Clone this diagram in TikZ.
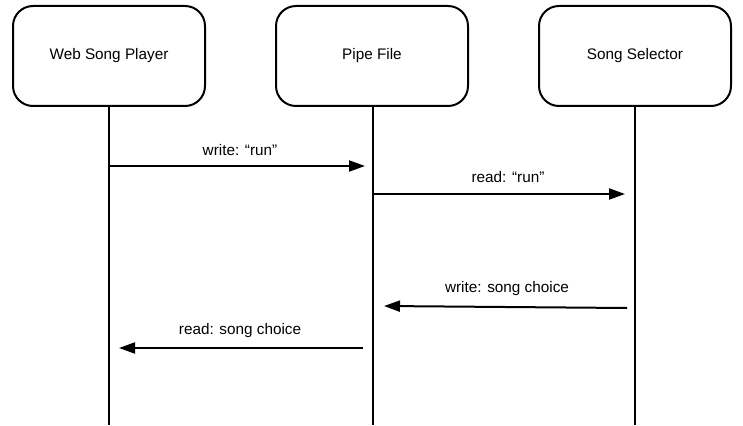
\documentclass[tikz,border=0pt]{standalone}
\usepackage{fontspec}
\setmainfont{Liberation Sans}
\usetikzlibrary{arrows.meta}
\begin{document}
\begin{tikzpicture}[x=1pt,y=-1pt,
  actor/.style={draw, line width=2pt, rounded corners=20pt, minimum width=192pt, minimum height=100pt, inner sep=0pt, font=\fontsize{15.3}{18}\selectfont},
  lifeline/.style={line width=1.4pt},
  msg/.style={line width=2pt, -{Triangle[length=16pt,width=11pt]}},
  lbl/.style={font=\fontsize{15.3}{18}\selectfont, inner sep=0pt}]
\useasboundingbox (0,0) rectangle (743,425);
\node[actor] (a) at (109,56) {Web Song Player};
\node[actor] (b) at (372,56) {Pipe File};
\node[actor] (c) at (635,56) {Song Selector};
\coordinate (ae) at (109,425);
\coordinate (be) at (373,425);
\coordinate (ce) at (635,425);
\draw[lifeline] (a.south) -- (ae);
\draw[lifeline] (b.south -| be) -- (be);
\draw[lifeline] (c.south) -- (ce);
% message endpoints
\coordinate (m1s) at (109,166); \coordinate (m1e) at (365,166);
\coordinate (m2s) at (374,194); \coordinate (m2e) at (625,194);
\coordinate (m3s) at (627,308); \coordinate (m3e) at (384,306);
\coordinate (m4s) at (363,348); \coordinate (m4e) at (119,348);
\draw[msg] (m1s) -- (m1e);
\draw[msg] (m2s) -- (m2e);
\draw[msg] (m3s) -- (m3e);
\draw[msg] (m4s) -- (m4e);
\node[lbl] (l1) at (240,150) {write: “run”};
\node[lbl] (l2) at (508,177) {read: “run”};
\node[lbl] (l3) at (507,289) {write: song choice};
\node[lbl] (l4) at (240,331) {read: song choice};
\end{tikzpicture}
\end{document}
